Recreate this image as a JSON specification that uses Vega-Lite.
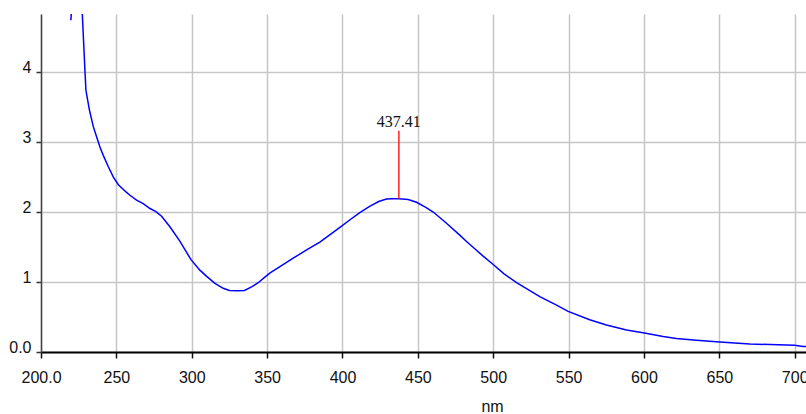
{
  "$schema": "https://vega.github.io/schema/vega-lite/v6.json",
  "width": 765,
  "height": 338,
  "autosize": "none",
  "padding": {"left": 41, "top": 14, "right": 0, "bottom": 62},
  "background": "white",
  "config": {
    "view": {"stroke": null},
    "axis": {
      "labelFont": "Liberation Sans, Arial, sans-serif",
      "titleFont": "Liberation Sans, Arial, sans-serif",
      "labelColor": "#111",
      "titleColor": "#111",
      "gridColor": "#c6c6c6",
      "gridWidth": 1.5,
      "gridOpacity": 1,
      "labelFlush": false
    }
  },
  "datasets": {
    "spectrum": [
      {"nm": 227.0, "abs": 5.0, "series": "main"},
      {"nm": 227.4, "abs": 4.83, "series": "main"},
      {"nm": 229.2, "abs": 4.0, "series": "main"},
      {"nm": 229.8, "abs": 3.74, "series": "main"},
      {"nm": 232.1, "abs": 3.46, "series": "main"},
      {"nm": 234.7, "abs": 3.22, "series": "main"},
      {"nm": 236.5, "abs": 3.1, "series": "main"},
      {"nm": 239.1, "abs": 2.93, "series": "main"},
      {"nm": 241.3, "abs": 2.81, "series": "main"},
      {"nm": 244.6, "abs": 2.65, "series": "main"},
      {"nm": 248.0, "abs": 2.5, "series": "main"},
      {"nm": 251.3, "abs": 2.39, "series": "main"},
      {"nm": 256.8, "abs": 2.28, "series": "main"},
      {"nm": 259.0, "abs": 2.24, "series": "main"},
      {"nm": 263.4, "abs": 2.17, "series": "main"},
      {"nm": 267.8, "abs": 2.12, "series": "main"},
      {"nm": 272.3, "abs": 2.05, "series": "main"},
      {"nm": 276.0, "abs": 2.01, "series": "main"},
      {"nm": 280.0, "abs": 1.94, "series": "main"},
      {"nm": 285.5, "abs": 1.79, "series": "main"},
      {"nm": 292.2, "abs": 1.58, "series": "main"},
      {"nm": 299.5, "abs": 1.32, "series": "main"},
      {"nm": 305.4, "abs": 1.17, "series": "main"},
      {"nm": 309.9, "abs": 1.08, "series": "main"},
      {"nm": 315.4, "abs": 0.98, "series": "main"},
      {"nm": 320.9, "abs": 0.91, "series": "main"},
      {"nm": 325.0, "abs": 0.88, "series": "main"},
      {"nm": 330.0, "abs": 0.875, "series": "main"},
      {"nm": 335.0, "abs": 0.88, "series": "main"},
      {"nm": 339.7, "abs": 0.93, "series": "main"},
      {"nm": 344.1, "abs": 0.99, "series": "main"},
      {"nm": 348.5, "abs": 1.07, "series": "main"},
      {"nm": 352.0, "abs": 1.13, "series": "main"},
      {"nm": 358.5, "abs": 1.22, "series": "main"},
      {"nm": 367.3, "abs": 1.34, "series": "main"},
      {"nm": 376.2, "abs": 1.46, "series": "main"},
      {"nm": 385.0, "abs": 1.57, "series": "main"},
      {"nm": 392.0, "abs": 1.68, "series": "main"},
      {"nm": 399.4, "abs": 1.8, "series": "main"},
      {"nm": 405.0, "abs": 1.89, "series": "main"},
      {"nm": 411.5, "abs": 1.99, "series": "main"},
      {"nm": 418.0, "abs": 2.08, "series": "main"},
      {"nm": 424.0, "abs": 2.15, "series": "main"},
      {"nm": 429.2, "abs": 2.186, "series": "main"},
      {"nm": 433.0, "abs": 2.19, "series": "main"},
      {"nm": 437.4, "abs": 2.19, "series": "main"},
      {"nm": 443.6, "abs": 2.18, "series": "main"},
      {"nm": 449.1, "abs": 2.14, "series": "main"},
      {"nm": 455.0, "abs": 2.07, "series": "main"},
      {"nm": 460.2, "abs": 2.0, "series": "main"},
      {"nm": 469.0, "abs": 1.84, "series": "main"},
      {"nm": 477.8, "abs": 1.67, "series": "main"},
      {"nm": 482.3, "abs": 1.58, "series": "main"},
      {"nm": 487.0, "abs": 1.49, "series": "main"},
      {"nm": 493.3, "abs": 1.37, "series": "main"},
      {"nm": 500.0, "abs": 1.25, "series": "main"},
      {"nm": 507.0, "abs": 1.12, "series": "main"},
      {"nm": 515.5, "abs": 0.99, "series": "main"},
      {"nm": 526.5, "abs": 0.85, "series": "main"},
      {"nm": 530.9, "abs": 0.79, "series": "main"},
      {"nm": 542.0, "abs": 0.67, "series": "main"},
      {"nm": 549.7, "abs": 0.58, "series": "main"},
      {"nm": 564.0, "abs": 0.46, "series": "main"},
      {"nm": 575.1, "abs": 0.386, "series": "main"},
      {"nm": 588.4, "abs": 0.314, "series": "main"},
      {"nm": 599.4, "abs": 0.276, "series": "main"},
      {"nm": 612.7, "abs": 0.222, "series": "main"},
      {"nm": 621.5, "abs": 0.193, "series": "main"},
      {"nm": 634.8, "abs": 0.167, "series": "main"},
      {"nm": 650.3, "abs": 0.143, "series": "main"},
      {"nm": 670.2, "abs": 0.114, "series": "main"},
      {"nm": 700.0, "abs": 0.096, "series": "main"},
      {"nm": 705.5, "abs": 0.08, "series": "main"},
      {"nm": 708.0, "abs": 0.08, "series": "main"},
      {"nm": 220.25, "abs": 4.9, "series": "spike"},
      {"nm": 219.8, "abs": 4.74, "series": "spike"}
    ],
    "peak": [
      {"nm": 437.41, "low": 2.19, "high": 3.16, "label": "437.41"}
    ]
  },
  "layer": [
    {
      "data": {"name": "spectrum"},
      "mark": {"type": "line", "color": "#0000ff", "strokeWidth": 1.5, "clip": true},
      "encoding": {
        "x": {
          "field": "nm", "type": "quantitative",
          "scale": {"domain": [200, 707.5], "nice": false, "zero": false},
          "axis": {
            "title": "nm",
            "values": [200, 250, 300, 350, 400, 450, 500, 550, 600, 650, 700],
            "format": "d",
            "labelExpr": "datum.value == 200 ? '200.0' : datum.label",
            "labelFontSize": 16,
            "labelPadding": 11,
            "tickSize": 6,
            "tickWidth": 1.5,
            "tickColor": "#111",
            "domainColor": "#000",
            "domainWidth": 2,
            "titleFontSize": 16,
            "titleFontWeight": "normal",
            "titleX": 451,
            "titleY": 59,
            "titleBaseline": "alphabetic",
            "titleAlign": "center",
            "grid": true
          }
        },
        "y": {
          "field": "abs", "type": "quantitative",
          "scale": {"domain": [0, 4.83], "nice": false},
          "axis": {
            "title": null,
            "values": [0, 1, 2, 3, 4],
            "labelExpr": "datum.value == 0 ? '0.0' : format(datum.value, 'd')",
            "labelFontSize": 16,
            "labelBaseline": "alphabetic",
            "labelPadding": 5,
            "tickSize": 5,
            "tickWidth": 1.5,
            "tickColor": "#333",
            "domainColor": "#444",
            "domainWidth": 1.5,
            "grid": true
          }
        },
        "detail": {"field": "series"}
      }
    },
    {
      "data": {"name": "peak"},
      "mark": {"type": "rule", "color": "#ff2020", "strokeWidth": 1.5},
      "encoding": {
        "x": {"field": "nm", "type": "quantitative"},
        "y": {"field": "low", "type": "quantitative"},
        "y2": {"field": "high"}
      }
    },
    {
      "data": {"name": "peak"},
      "mark": {"type": "text", "font": "Liberation Serif, Times New Roman, serif", "fontSize": 16, "color": "#111", "baseline": "alphabetic", "align": "center", "dy": -4},
      "encoding": {
        "x": {"field": "nm", "type": "quantitative"},
        "y": {"field": "high", "type": "quantitative"},
        "text": {"field": "label"}
      }
    }
  ]
}
